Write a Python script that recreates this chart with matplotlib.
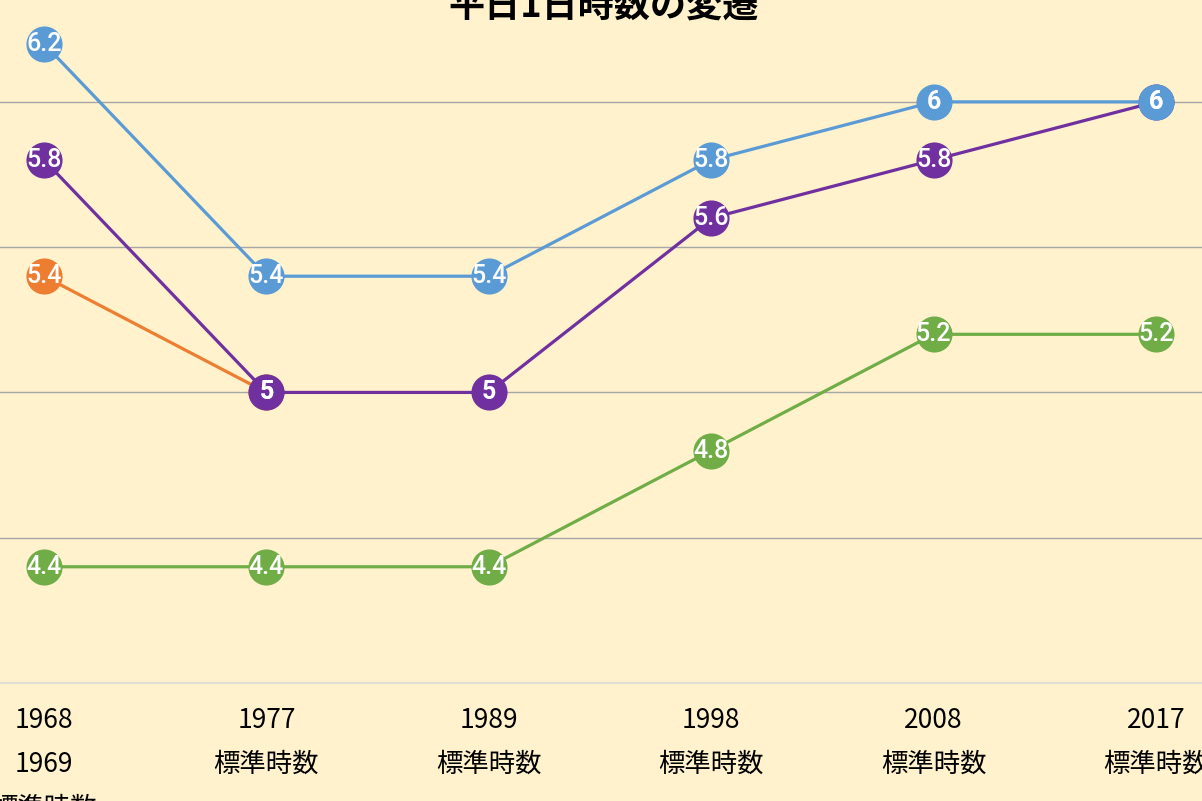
import numpy as np
import matplotlib.pyplot as plt

plt.rcParams['font.family'] = ['Noto Sans CJK JP', 'DejaVu Sans']

# データ
years = ['1968\n1969\n標準時数', '1977\n標準時数', '1989\n標準時数',
         '1998\n標準時数', '2008\n標準時数', '2017\n標準時数']
blue_vals = [6.2, 5.4, 5.4, 5.8, 6.0, 6.0]
purple_vals = [5.8, 5.0, 5.0, 5.6, 5.8, 6.0]
orange_vals = [5.4, 5.0, np.nan, np.nan, np.nan, np.nan]
green_vals = [4.4, 4.4, 4.4, 4.8, 5.2, 5.2]

bg = '#FFF2CC'
fig = plt.figure(figsize=(12.02, 8.01), dpi=100, facecolor=bg)
ax = fig.add_axes([0, (801 - 683) / 801, 1, 683 / 801])
ax.set_facecolor(bg)

x = np.arange(len(years))

# 描く順番（重なり方を合わせる）
series = [(orange_vals, '#ED7D31'), (green_vals, '#70AD47'),
          (purple_vals, '#7030A0'), (blue_vals, '#5B9BD5')]

for vals, col in series:
    ax.plot(x, vals, color=col, linewidth=2.3, marker='o', markersize=26,
            markeredgewidth=0, clip_on=False, zorder=3)
    for xi, v in zip(x, vals):
        if np.isnan(v):
            continue
        txt = f'{v:.0f}' if v == int(v) else f'{v:.1f}'
        ax.text(xi, v, txt, color='white', fontsize=18, family='Roboto',
                weight='bold' if v == int(v) else 'medium',
                ha='center', va='center', zorder=4)

ax.set_xlim(-44 / 222.4, (1202 - 44) / 222.4)
ax.set_ylim(4.0, 6.0 + 102 / 291)

ax.set_yticks([4.5, 5.0, 5.5, 6.0])
ax.yaxis.grid(True, color='#A6A6A6', linewidth=1)
ax.tick_params(axis='y', left=False, labelleft=False)
ax.set_axisbelow(True)

ax.set_xticks(x)
ax.set_xticklabels(years, fontsize=19, linespacing=1.82)
ax.tick_params(axis='x', length=0, pad=17)

for s in ['top', 'left', 'right']:
    ax.spines[s].set_visible(False)
ax.spines['bottom'].set_color('#D9D9D9')
ax.spines['bottom'].set_linewidth(1.2)

fig.text(0.502, 1 - 17 / 801, '平日1日時数の変遷', ha='center', va='baseline',
         fontsize=26, weight='bold')

fig.savefig('out.png', dpi=100, facecolor=bg)
